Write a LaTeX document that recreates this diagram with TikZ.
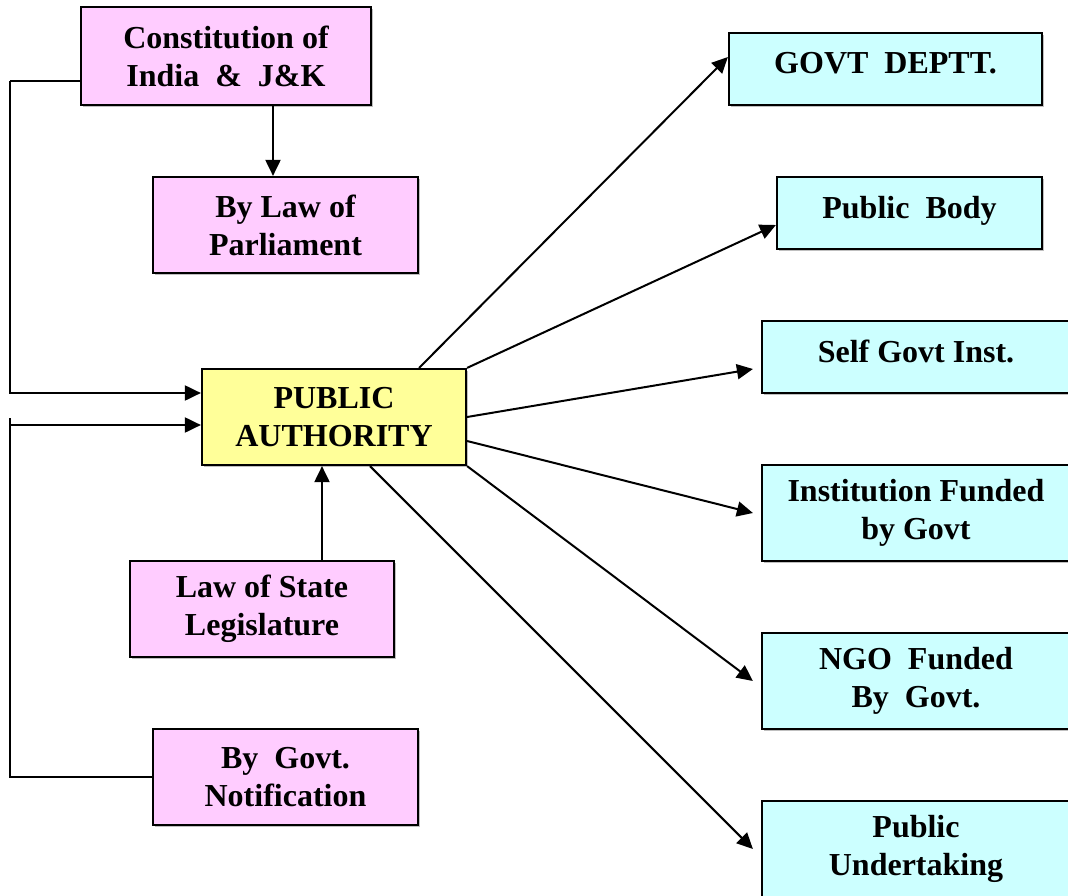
\documentclass[tikz,border=0pt]{standalone}
\usepackage{fontspec}
\setmainfont{Liberation Serif}
\usetikzlibrary{arrows.meta}
\usetikzlibrary{shadows}

\definecolor{pinkfill}{HTML}{FFCCFF}
\definecolor{yellowfill}{HTML}{FFFF99}
\definecolor{cyanfill}{HTML}{CCFFFF}

\tikzset{
  box/.style={draw, line width=2.2pt, align=center, inner sep=0pt,
    font=\fontsize{32}{38}\selectfont\bfseries,
    drop shadow={shadow xshift=2pt, shadow yshift=-2pt, opacity=1, fill=black!25}},
  srcbox/.style={box, fill=pinkfill, minimum width=265pt, minimum height=96pt},
  dstbox/.style={box, fill=cyanfill, minimum width=308pt, minimum height=72pt},
  oneline/.style={text depth=12pt},
  arr/.style={line width=2pt, -{Triangle[length=16pt,width=15pt]}},
  conn/.style={line width=2pt}
}

\begin{document}
\begin{tikzpicture}[x=1pt, y=-1pt]
\useasboundingbox (0,0) rectangle (1068,896);
\clip (0,0) rectangle (1068,896);

% sources (left)
\node[srcbox, minimum width=290pt, minimum height=98pt] (constitution) at (226,56) {Constitution of\\India~~\&~~J\&K};
\node[srcbox] (parliament) at (285.5,225) {By Law of\\Parliament};
\node[srcbox, minimum width=264pt] (statelaw) at (262,609) {Law of State\\Legislature};
\node[srcbox] (notification) at (285.5,777) {By~~Govt.\\Notification};

% centre
\node[box, fill=yellowfill, minimum width=264pt, minimum height=96pt] (authority) at (334,417) {PUBLIC\\AUTHORITY};

% kinds (right)
\node[dstbox, oneline, minimum width=313pt] (govtdept) at (885.5,69) {GOVT~~DEPTT.};
\node[dstbox, oneline, minimum width=265pt] (publicbody) at (909.5,213) {Public~~Body};
\node[dstbox, oneline] (selfgovt) at (916,357) {Self Govt Inst.};
\node[dstbox, minimum height=96pt] (instfunded) at (916,513) {Institution Funded\\by Govt};
\node[dstbox, minimum height=96pt] (ngofunded) at (916,681) {NGO~~Funded\\By~~Govt.};
\node[dstbox, minimum height=96pt] (undertaking) at (916,849) {Public\\Undertaking};

% helper points
\coordinate (pain1) at ([yshift=24pt]authority.west);
\coordinate (pain2) at ([yshift=-8pt]authority.west);
\coordinate (constout) at ([xshift=47pt]constitution.south);
\coordinate (stateout) at ([xshift=60pt]statelaw.north);

\draw[arr] (constout) -- (constout |- parliament.north);
\draw[conn] ([yshift=-25pt]constitution.west) -- ++(-70,0) coordinate (lefttop);
\draw[arr] (lefttop) -- (lefttop |- pain1) -- (pain1);
\draw[conn] (notification.west) -- ++(-142,0) coordinate (leftbot) -- ++(0,-359);
\draw[arr] (leftbot |- pain2) -- (pain2);
\draw[arr] (stateout) -- (stateout |- authority.south);

% public authority to its kinds
\draw[arr] ([xshift=-48pt]authority.north east) -- ([yshift=12pt]govtdept.west);
\draw[arr] (authority.north east) -- ([yshift=-12pt]publicbody.west);
\draw[arr] (authority.east) -- ([xshift=-8pt,yshift=-12pt]selfgovt.west);
\draw[arr] ([yshift=-24pt]authority.east) -- ([xshift=-8pt]instfunded.west);
\draw[arr] (authority.south east) -- ([xshift=-8pt]ngofunded.west);
\draw[arr] ([xshift=36pt]authority.south) -- ([xshift=-8pt]undertaking.west);
\end{tikzpicture}
\end{document}
